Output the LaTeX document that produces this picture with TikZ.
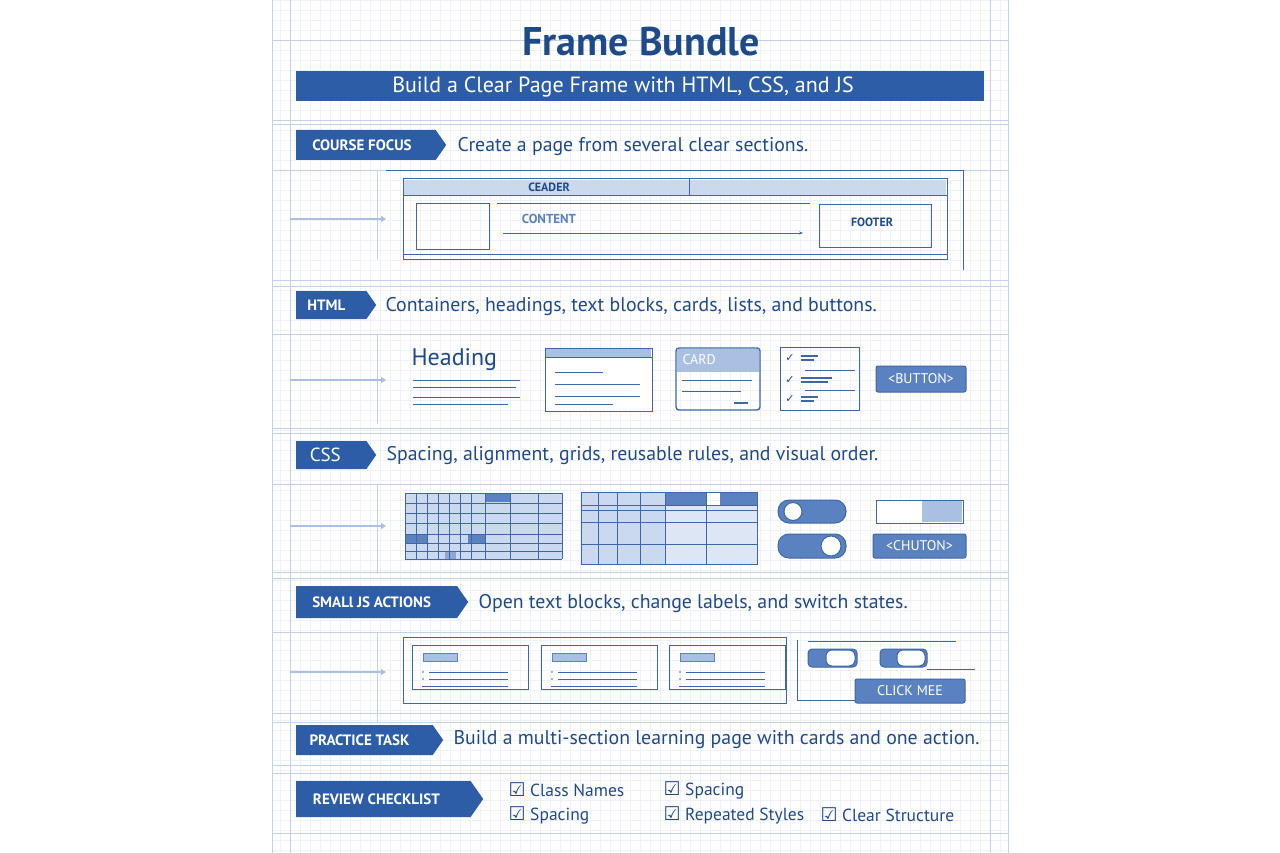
\documentclass[tikz,border=0pt]{standalone}
\usepackage{fontspec}
\setmainfont{PT Sans}
\newfontfamily\djf{DejaVu Sans}
\usetikzlibrary{shapes.symbols,arrows.meta}
\definecolor{navy}{HTML}{1F4A8A}
\definecolor{band}{HTML}{2C5DA6}
\definecolor{ln}{HTML}{3D67A8}
\definecolor{lite}{HTML}{A9C0E2}
\definecolor{mid}{HTML}{5B82C0}
\definecolor{gridc}{HTML}{EEF2F8}
\definecolor{rule}{HTML}{C3D1E6}
\newcommand{\cbx}{{\djf\fontsize{19}{19}\selectfont ☑}}
\newcommand{\ck}{{\djf ✓}}
\begin{document}
\begin{tikzpicture}[x=1pt,y=-1pt,
  tag/.style={signal, signal to=east, signal pointer angle=110, fill=band, text=white, font=\bfseries\fontsize{15}{15}\selectfont, inner sep=0pt, anchor=west},
  body/.style={anchor=west, text=navy, font=\fontsize{19.8}{19.8}\selectfont},
  box/.style={draw=ln, line width=1pt},
  thin/.style={draw=ln, line width=0.6pt},
  arr/.style={draw=lite, line width=1.6pt, -{Triangle[length=5pt,width=6pt]}},
  btn/.style={draw=ln, fill=mid, rounded corners=2pt, text=white, font=\fontsize{14}{14}\selectfont, line width=1pt},
  chk/.style={anchor=west, text=navy, font=\fontsize{17.5}{17.5}\selectfont}]
\useasboundingbox (0,0) rectangle (1280,853);
\fill[white] (0,0) rectangle (1280,853);
\foreach \x in {280,290,...,1000} \draw[gridc, line width=0.5pt] (\x,0) -- (\x,853);
\foreach \y in {0,10,...,850} \draw[gridc, line width=0.5pt] (272,\y) -- (1008,\y);
\foreach \x in {272,290,990,1008} \draw[rule] (\x,0) -- (\x,853);
\foreach \y in {40,120,124,170,280,286,334,428,433,484,572,578,632,713,722,765,773,833}
  \draw[rule, line width=0.9pt] (272,\y) -- (1008,\y);
\foreach \y in {170,334,484,632} \draw[rule] (377,\y) -- (377,\y+90);
% title
\node[text=navy, font=\bfseries\fontsize{40}{40}\selectfont] (title) at (641,42) {Frame Bundle};
\fill[band] (296,71) rectangle (984,101);
\node[text=white, font=\fontsize{22}{22}\selectfont] (sub) at (623,87) {Build a Clear Page Frame with HTML, CSS, and JS};
% section tags
\node[tag, minimum width=150, minimum height=30] (t1) at (296,145) {\hspace*{-8pt}COURSE FOCUS};
\node[body] (b1) at (454,147) {Create a page from several clear sections.};
\node[tag, minimum width=80, minimum height=28] (t2) at (296,305) {\hspace*{-10pt}HTML};
\node[body] (b2) at (382,307) {Containers, headings, text blocks, cards, lists, and buttons.};
\node[tag, minimum width=80, minimum height=28, font=\fontsize{19}{19}\selectfont] (t3) at (296,455) {\hspace*{-12pt}CSS};
\node[body] (b3) at (383,456) {Spacing, alignment, grids, reusable rules, and visual order.};
\node[tag, minimum width=172, minimum height=32] (t4) at (296,602) {\hspace*{-10pt}SMALl JS ACTIONS};
\node[body] (b4) at (475,604) {Open text blocks, change labels, and switch states.};
\node[tag, minimum width=147, minimum height=30] (t5) at (296,740) {\hspace*{-10pt}PRACTICE TASK};
\node[body] (b5) at (450,740) {Build a multi-section learning page with cards and one action.};
\node[tag, minimum width=187, minimum height=36] (t6) at (296,799) {\hspace*{-14pt}REVIEW CHECKLIST};
% checklist
\node[chk] (c1) at (505,790) {\cbx\ Class Names};
\node[chk] (c2) at (505,815) {\cbx\ Spacing};
\node[chk] (c3) at (660,790) {\cbx\ Spacing};
\node[chk] (c4) at (660,815) {\cbx\ Repeated Styles};
\node[chk] (c5) at (817,815) {\cbx\ Clear Structure};
% section 1
\coordinate (a1s) at (290,219); \coordinate (a1e) at (386,219);
\draw[arr] (a1s) -- (a1e);
\draw[thin] (386,170) -- (963,170) -- (963,270);
\draw[box] (403,179) rectangle (947,260);
\fill[gridc!50!lite] (404,180) rectangle (946,196);
\draw[box] (403,196) -- (947,196); \draw[thin] (689,179) -- (689,196);
\draw[thin] (403,254) -- (947,254);
\node[text=navy, font=\bfseries\fontsize{12}{12}\selectfont] (hd) at (549,187) {CEADER};
\draw[thin] (416,203) rectangle (489,249);
\node[text=mid, font=\bfseries\fontsize{13}{13}\selectfont] (ct) at (549,219) {CONTENT};
\coordinate (cs) at (503,233); \coordinate (ce) at (803,233);
\draw[thin, -{Stealth[length=4pt]}] (cs) -- (ce);
\draw[thin] (497,203) -- (810,203);
\draw[thin] (819,204) rectangle (931,247);
\node[text=navy, font=\bfseries\fontsize{12}{12}\selectfont] (ft) at (872,222) {FOOTER};
% section 2
\coordinate (a2s) at (290,380); \coordinate (a2e) at (386,380);
\draw[arr] (a2s) -- (a2e);
\node[anchor=west, text=navy, font=\fontsize{24}{24}\selectfont] (hg) at (408,360) {Heading};
\foreach \y/\w in {380/520,387/516,397/520,404/508} \draw[ln, line width=1pt] (413,\y) -- (\w,\y);
\draw[box, fill=white] (545,348) rectangle (652,411);
\fill[lite] (546,349) rectangle (651,357);
\draw[thin] (545,357) -- (652,357);
\foreach \y/\w in {372/603,384/640,396/640,404/613} \draw[ln, line width=1pt] (555,\y) -- (\w,\y);
\draw[box, rounded corners=3pt, line width=1.4pt] (676,348) rectangle (760,410);
\fill[lite] (677,349) rectangle (759,372);
\node[anchor=west, text=white, font=\fontsize{14}{14}\selectfont] (cd) at (679,360) {CARD};
\draw[ln, line width=1pt] (682,380) -- (752,380); \draw[ln, line width=1pt] (682,391) -- (741,391);
\draw[ln, line width=1.5pt] (734,403) -- (748,403);
\draw[box] (780,347) rectangle (859,410);
\draw[thin] (805,370) -- (855,370); \draw[thin] (805,390) -- (855,390);
\foreach \y/\w in {358/818,380/832,399/818}{
  \node[text=navy, font=\bfseries\fontsize{11}{11}\selectfont] at (790,\y) {\ck};
  \draw[ln, line width=1.4pt] (801,\y-2) -- (\w,\y-2); \draw[ln, line width=1.4pt] (801,\y+2) -- (\w-4,\y+2);}
\node[btn, minimum width=90, minimum height=26] (bt) at (921,379) {<BUTTON>};
% section 3
\coordinate (a3s) at (290,526); \coordinate (a3e) at (386,526);
\draw[arr] (a3s) -- (a3e);
\fill[lite!60] (405,493) rectangle (562,559);
\fill[mid] (485,493) rectangle (510,502); \fill[mid] (405,534) rectangle (427,543); \fill[mid] (468,534) rectangle (485,543); \fill[mid!70] (445,551) rectangle (456,559);
\foreach \x in {405,416,427,438,449,460,471,485,510,538,562} \draw[thin] (\x,493) -- (\x,559);
\foreach \y in {493,503,513,523,534,543,551,559} \draw[thin] (405,\y) -- (562,\y);
\fill[lite!60] (581,492) rectangle (665,564);
\fill[lite!40] (665,505) rectangle (757,564);
\fill[mid] (665,492) rectangle (706,505); \fill[mid] (720,492) rectangle (757,505);
\foreach \x in {581,598,617,640,665,706,757} \draw[thin] (\x,492) -- (\x,564);
\foreach \y in {492,505,510,522,544,564} \draw[thin] (581,\y) -- (757,\y);
\draw[box] (581,492) rectangle (757,564);
\draw[box, fill=mid, rounded corners=11pt] (778,500) rectangle (846,523);
\draw[box, fill=white] (793,511.5) circle (9);
\draw[box, fill=mid, rounded corners=11pt] (778,534) rectangle (846,558);
\draw[box, fill=white] (831,546) circle (10);
\draw[box, fill=white] (876,500) rectangle (963,523); \fill[lite] (922,501) rectangle (962,522);
\node[btn, minimum width=93, minimum height=24] (ch) at (919.5,546) {<CHUTON>};
% section 4
\coordinate (a4s) at (290,672); \coordinate (a4e) at (386,672);
\draw[arr] (a4s) -- (a4e);
\draw[thin] (403,637) rectangle (786,703);
\foreach \x in {412,541,669}{
  \draw[box] (\x,645) rectangle (\x+116,689);
  \fill[lite] (\x+11,653) rectangle (\x+45,661); \draw[mid, line width=0.5pt] (\x+11,653) rectangle (\x+45,661);
  \foreach \y in {672,679} {\fill[ln] (\x+11,\y) circle (0.8); \draw[ln, line width=0.8pt] (\x+17,\y) -- (\x+96,\y);}
  \draw[ln, line width=1pt] (\x+10,686) -- (\x+96,686);}
\draw[thin] (797,640) -- (797,700) -- (855,700);
\draw[thin] (808,641) -- (956,641);
\draw[box, fill=mid, rounded corners=4pt] (808,649) rectangle (857,667);
\draw[box, fill=white, rounded corners=6pt] (826,650) rectangle (855,666);
\draw[box, fill=mid, rounded corners=4pt] (880,649) rectangle (927,667);
\draw[box, fill=white, rounded corners=6pt] (897,650) rectangle (925,666);
\draw[thin] (927,669) -- (975,669);
\node[btn, minimum width=110, minimum height=24] (ck) at (910,691) {CLICK MEE};
\end{tikzpicture}
\end{document}
